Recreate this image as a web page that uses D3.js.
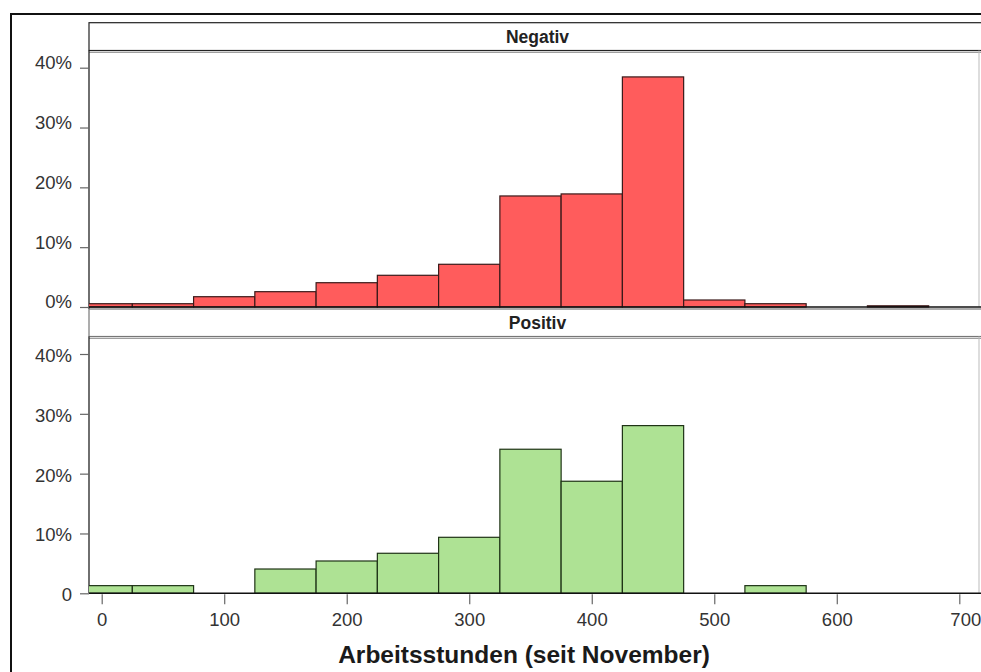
<!DOCTYPE html>
<html>
<head>
<meta charset="utf-8">
<script src="https://cdn.jsdelivr.net/npm/d3@7"></script>
<style>
  html, body { margin: 0; padding: 0; background: #fff; }
  svg { display: block; }
</style>
</head>
<body>
<svg id="chart" width="981" height="672"></svg>
<script>
// ---- data ----
const binCenters = [0, 50, 100, 150, 200, 250, 300, 350, 400, 450, 500, 550, 600, 650, 700];
const binWidth = 50;
const negativValues = [0.55, 0.55, 1.72, 2.56, 4.06, 5.3, 7.14, 18.56, 18.9, 38.46, 1.17, 0.55, 0, 0.2, 0];
const positivValues = [1.28, 1.28, 0, 4.06, 5.4, 6.69, 9.36, 24.08, 18.73, 28.03, 0, 1.28, 0, 0, 0];
const xTicks = [0, 100, 200, 300, 400, 500, 600, 700];
const yTicks = [0, 10, 20, 30, 40];
const yTickLabelsTop = ["0%", "10%", "20%", "30%", "40%"];
const yTickLabelsBottom = ["0", "10%", "20%", "30%", "40%"];
const panelNames = ["Negativ", "Positiv"];
const xTitle = "Arbeitsstunden (seit November)";

const svg = d3.select("#chart");
const FONT = "Arial, 'Liberation Sans', Helvetica, sans-serif";

// layout
const left = 89, right = 979;
const x = d3.scaleLinear().domain([0, 700]).range([101.7, 959.3]);

const panels = [
  { name: panelNames[0], values: negativValues, labels: yTickLabelsTop,
    stripTop: 22.7, stripBottom: 50.5, base: 307, top40: 67.7,
    fill: "#ff5c5c", stroke: "#3a1a1a", labelDy: -5 },
  { name: panelNames[1], values: positivValues, labels: yTickLabelsBottom,
    stripTop: 309, stripBottom: 336.5, base: 593.3, top40: 354,
    fill: "#aee294", stroke: "#1f3316", labelDy: 1.5 }
];

// outer frame
svg.append("rect").attr("x", 11).attr("y", 14).attr("width", 1000).attr("height", 700)
  .attr("fill", "none").attr("stroke", "#111").attr("stroke-width", 2);

svg.append("defs").append("clipPath").attr("id", "clipPanels")
  .append("rect").attr("x", left).attr("y", 0).attr("width", right - left).attr("height", 672);

panels.forEach((p, i) => {
  const y = d3.scaleLinear().domain([0, 40]).range([p.base, p.top40]);
  const g = svg.append("g");

  // strip
  g.append("rect").attr("x", left).attr("y", p.stripTop)
    .attr("width", 981 - left + 5).attr("height", p.stripBottom - p.stripTop)
    .attr("fill", "#fff").attr("stroke", i === 0 ? "#222" : "#777").attr("stroke-width", 1.2);
  g.append("line").attr("x1", left).attr("x2", 981).attr("y1", p.stripBottom + 1.8).attr("y2", p.stripBottom + 1.8)
    .attr("stroke", "#888").attr("stroke-width", 1);
  g.append("text").attr("x", 537.5).attr("y", (p.stripTop + p.stripBottom) / 2 + 6)
    .attr("text-anchor", "middle").attr("font-family", FONT).attr("font-weight", "bold")
    .attr("font-size", 17.5).attr("fill", "#222").text(p.name);

  // panel left border
  g.append("line").attr("x1", left).attr("x2", left)
    .attr("y1", p.stripBottom).attr("y2", p.base + (i === 0 ? 2 : 0))
    .attr("stroke", "#222").attr("stroke-width", 1.3);
  // panel right border (faint)
  g.append("line").attr("x1", right).attr("x2", right)
    .attr("y1", p.stripBottom).attr("y2", p.base)
    .attr("stroke", "#bbb").attr("stroke-width", 1);

  // bars
  const data = binCenters.map((c, k) => ({ c, v: p.values[k] })).filter(d => d.v > 0);
  g.append("g").attr("clip-path", "url(#clipPanels)")
    .selectAll("rect").data(data).enter().append("rect")
    .attr("x", d => x(d.c - binWidth / 2))
    .attr("width", d => x(d.c + binWidth / 2) - x(d.c - binWidth / 2))
    .attr("y", d => y(d.v))
    .attr("height", d => y(0) - y(d.v))
    .attr("fill", p.fill).attr("stroke", p.stroke).attr("stroke-width", 1.2);

  // baseline
  g.append("line").attr("x1", left).attr("x2", 981).attr("y1", p.base).attr("y2", p.base)
    .attr("stroke", "#111").attr("stroke-width", 1.6);

  // y axis
  const ya = g.append("g").attr("transform", `translate(${left},0)`)
    .call(d3.axisLeft(y).tickValues(yTicks).tickSize(9).tickPadding(8)
      .tickFormat((d, k) => p.labels[k]));
  ya.select(".domain").remove();
  ya.selectAll(".tick line").attr("stroke", "#666").attr("stroke-width", 1.2);
  ya.selectAll(".tick text").attr("font-family", FONT).attr("font-size", 18.5)
    .attr("fill", "#333").attr("dy", `${0.32 + p.labelDy / 18.5}em`);
});

// x axis (bottom panel)
const xa = svg.append("g").attr("transform", `translate(0,${panels[1].base + 1})`)
  .call(d3.axisBottom(x).tickValues(xTicks).tickSize(10).tickPadding(9).tickFormat(d3.format("d")));
xa.select(".domain").remove();
xa.selectAll(".tick line").attr("stroke", "#666").attr("stroke-width", 1.2);
xa.selectAll(".tick text").attr("font-family", FONT).attr("font-size", 18.5).attr("fill", "#333")
  .attr("dx", d => d === 700 ? 6 : 0);

// x title
svg.append("text").attr("x", 524).attr("y", 663)
  .attr("text-anchor", "middle").attr("font-family", FONT).attr("font-weight", "bold")
  .attr("font-size", 24.5).attr("fill", "#1a1a1a").text(xTitle);
</script>
</body>
</html>
